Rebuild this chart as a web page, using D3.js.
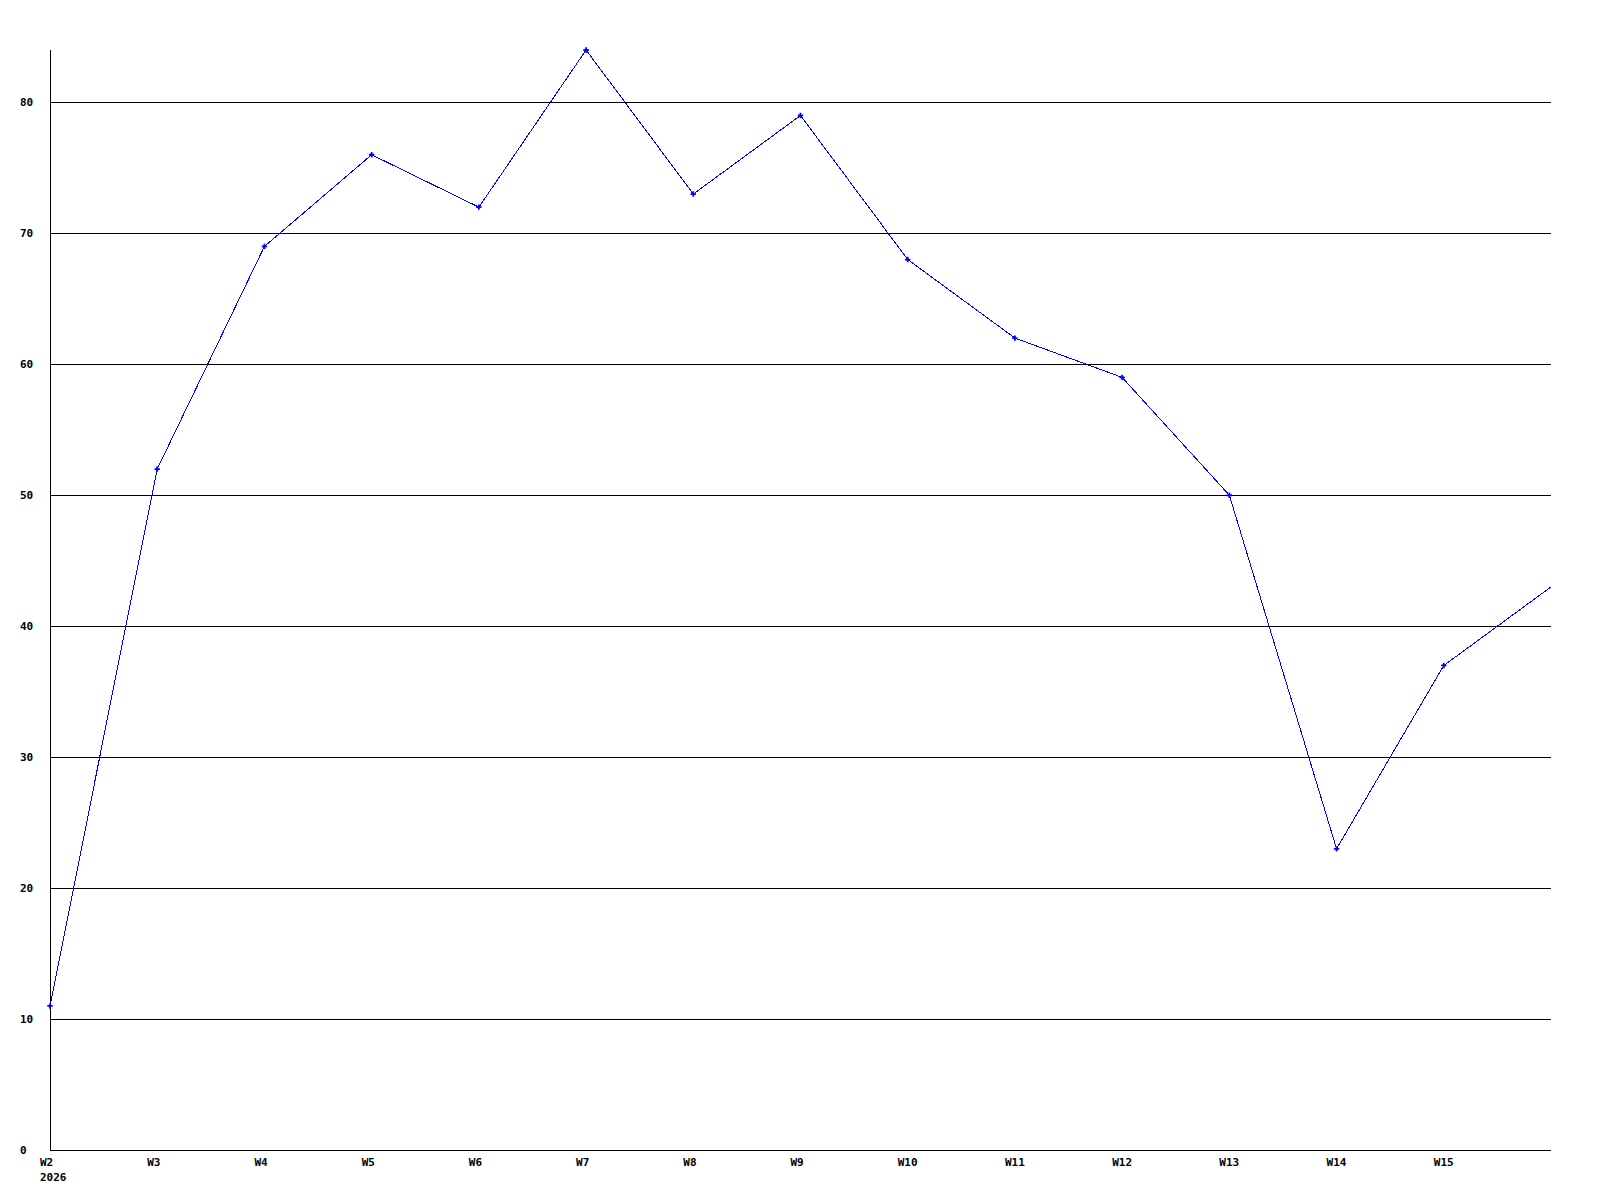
<!DOCTYPE html>
<html>
<head>
<meta charset="utf-8">
<script src="https://cdn.jsdelivr.net/npm/d3@7"></script>
<style>
  body { margin: 0; background: #fff; }
  text { font-family: "DejaVu Sans Mono", monospace; font-weight: bold; font-size: 11px; fill: #000; }
</style>
</head>
<body>
<svg id="chart" width="1600" height="1200"></svg>
<script>
// weeks and values
let weeks = ["W2", "W3", "W4", "W5", "W6", "W7", "W8", "W9", "W10", "W11", "W12", "W13", "W14", "W15", "W16"]
let values = [11, 52, 69, 76, 72, 84, 73, 79, 68, 62, 59, 50, 23, 37, 43]
let yTicks = [0, 10, 20, 30, 40, 50, 60, 70, 80]
let yearLabel = "2026"

let margin = { left: 50, top: 50, right: 49, bottom: 50 }
let width = 1600, height = 1200

let svg = d3.select("#chart")

let xScale = d3.scaleLinear()
    .domain([0, weeks.length - 1])
    .range([margin.left, width - margin.right])

let yScale = d3.scaleLinear()
    .domain([0, 84])
    .range([height - margin.bottom, margin.top])

// 网格线
svg.append("g")
    .selectAll("line")
    .data(yTicks.filter(d => d > 0))
    .enter()
    .append("line")
    .attr("x1", margin.left)
    .attr("x2", width - margin.right)
    .attr("y1", d => Math.round(yScale(d)) + 0.5)
    .attr("y2", d => Math.round(yScale(d)) + 0.5)
    .attr("stroke", "#000")
    .attr("shape-rendering", "crispEdges")

// axes lines
svg.append("line")
    .attr("x1", margin.left + 0.5).attr("x2", margin.left + 0.5)
    .attr("y1", margin.top).attr("y2", height - margin.bottom)
    .attr("stroke", "#000").attr("shape-rendering", "crispEdges")
svg.append("line")
    .attr("x1", margin.left).attr("x2", width - margin.right)
    .attr("y1", height - margin.bottom + 0.5).attr("y2", height - margin.bottom + 0.5)
    .attr("stroke", "#000").attr("shape-rendering", "crispEdges")

// y labels
svg.append("g")
    .selectAll("text")
    .data(yTicks)
    .enter()
    .append("text")
    .attr("x", 20)
    .attr("y", d => yScale(d) + 4)
    .text(d => d)

// x labels (last week has no label)
svg.append("g")
    .selectAll("text")
    .data(weeks.slice(0, weeks.length - 1))
    .enter()
    .append("text")
    .attr("x", (d, i) => xScale(i) - 10)
    .attr("y", height - margin.bottom + 16)
    .text(d => d)

svg.append("text")
    .attr("x", xScale(0) - 10)
    .attr("y", height - margin.bottom + 31)
    .text(yearLabel)

// line
let line = d3.line()
    .x((d, i) => xScale(i))
    .y(d => yScale(d))

svg.append("path")
    .datum(values)
    .attr("d", line)
    .attr("fill", "none")
    .attr("stroke", "#0000ff")
    .attr("stroke-width", 1)
    .attr("shape-rendering", "crispEdges")

// markers
svg.append("g")
    .selectAll("path")
    .data(values.slice(0, values.length - 1))
    .enter()
    .append("path")
    .attr("d", d3.symbol().type(d3.symbolCross).size(16))
    .attr("transform", (d, i) => "translate(" + xScale(i) + "," + yScale(d) + ")")
    .attr("fill", "#0000ff")
</script>
</body>
</html>
